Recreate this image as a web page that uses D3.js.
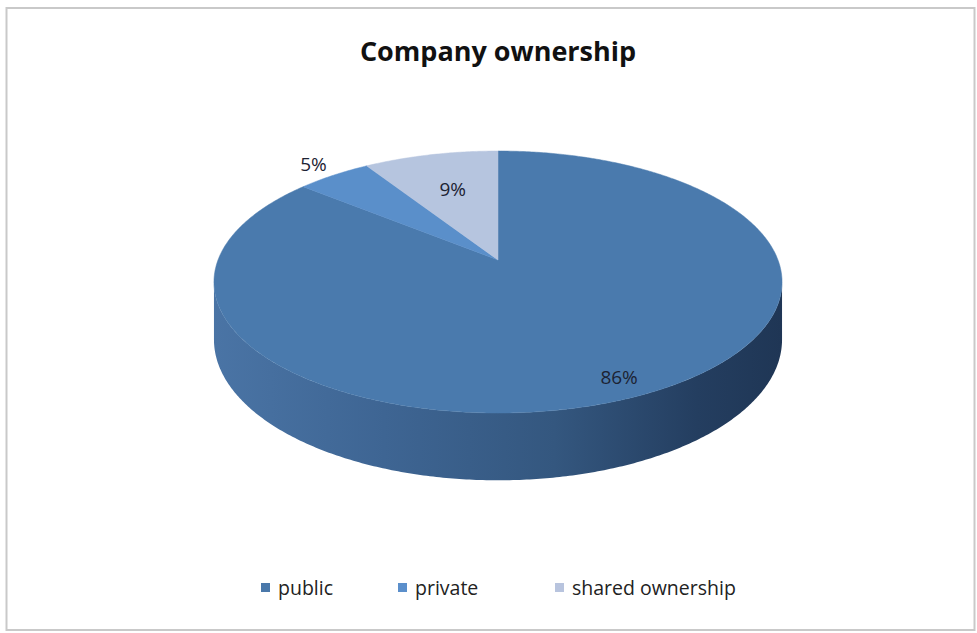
<!DOCTYPE html>
<html>
<head>
<meta charset="utf-8">
<script src="https://cdn.jsdelivr.net/npm/d3@7"></script>
<style>
  html, body { margin: 0; padding: 0; background: #ffffff; }
  svg { display: block; }
  text { font-family: "Open Sans", "Liberation Sans", sans-serif; }
</style>
</head>
<body>
<svg id="chart" width="977" height="633"></svg>
<script>
// Ownership categories and their shares (percent)
const categories = ["public", "private", "shared ownership"];
const shares = [86, 5, 9];
const labelTexts = ["86%", "5%", "9%"];
const topColors = ["#4a7aad", "#5a8fca", "#b6c5df"];
const legendColors = ["#4a78aa", "#5b8fcb", "#b8c4de"];
// radial position of each data label, as a fraction of the radius
const labelRadius = [0.88, 1.14, 0.64];

const W = 977, H = 633;
const svg = d3.select("#chart");

// frame
svg.append("rect")
  .attr("x", 6.5).attr("y", 8).attr("width", 968).attr("height", 622)
  .attr("fill", "#ffffff").attr("stroke", "#c9c9c9").attr("stroke-width", 2);

// title
svg.append("text")
  .attr("x", 498).attr("y", 61)
  .attr("text-anchor", "middle")
  .attr("font-size", 27).attr("font-weight", 700)
  .attr("fill", "#111111")
  .text("Company ownership");

// perspective pie geometry
const cx = 498, cy = 260;      // projected centre of the top face
const ax = 280, by = 127.3;    // horizontal / vertical half-axes before perspective
const k = 0.168;               // perspective strength (near edge larger)
const depth = 56;              // thickness of the disc

// theta: clockwise from 12 o'clock (d3.pie convention)
function project(theta, r, drop) {
  const u = r * Math.sin(theta);
  const v = -r * Math.cos(theta);
  const w = 1 - k * v;
  return [cx + ax * u / w, cy + by * v / w + (drop || 0) / w];
}

const pie = d3.pie().sort(null).value(d => d)(shares);
const line = d3.line();

function arcPoints(a0, a1, drop) {
  const n = Math.max(8, Math.ceil(Math.abs(a1 - a0) / 0.01));
  return d3.range(n + 1).map(i => project(a0 + (a1 - a0) * i / n, 1, drop));
}

// side wall (only the front half is visible; it belongs to the public slice)
const defs = svg.append("defs");
const grad = defs.append("linearGradient")
  .attr("id", "sideGrad").attr("gradientUnits", "userSpaceOnUse")
  .attr("x1", 214).attr("x2", 782).attr("y1", 0).attr("y2", 0);
grad.append("stop").attr("offset", "0%").attr("stop-color", "#4a74a5");
grad.append("stop").attr("offset", "30%").attr("stop-color", "#3e6593");
grad.append("stop").attr("offset", "60%").attr("stop-color", "#34577f");
grad.append("stop").attr("offset", "85%").attr("stop-color", "#243e60");
grad.append("stop").attr("offset", "100%").attr("stop-color", "#1f3655");

const s0 = Math.acos(-k), s1 = 2 * Math.PI - Math.acos(-k);
const sidePts = arcPoints(s0, s1, 0).concat(arcPoints(s1, s0, depth));
svg.append("path")
  .attr("d", line(sidePts) + "Z")
  .attr("fill", "url(#sideGrad)");

// top face slices
svg.append("g").selectAll("path")
  .data(pie)
  .join("path")
  .attr("d", d => line([project(0, 0, 0)].concat(arcPoints(d.startAngle, d.endAngle, 0))) + "Z")
  .attr("fill", (d, i) => topColors[i])
  .attr("stroke", (d, i) => topColors[i])
  .attr("stroke-width", 0.5);

// data labels
svg.append("g").selectAll("text")
  .data(pie)
  .join("text")
  .attr("transform", (d, i) => {
    const p = project((d.startAngle + d.endAngle) / 2, labelRadius[i], 0);
    return `translate(${p[0]},${p[1]})`;
  })
  .attr("text-anchor", "middle")
  .attr("dy", "0.35em")
  .attr("font-size", 19)
  .attr("fill", "#1c2333")
  .text((d, i) => labelTexts[i]);

// legend
const legendX = [261, 398, 555];
const legend = svg.append("g").selectAll("g")
  .data(categories)
  .join("g")
  .attr("transform", (d, i) => `translate(${legendX[i]},583)`);
legend.append("rect")
  .attr("width", 9).attr("height", 9)
  .attr("fill", (d, i) => legendColors[i]);
legend.append("text")
  .attr("x", 17).attr("y", 12)
  .attr("font-size", 19.5)
  .attr("fill", "#222222")
  .text(d => d);
</script>
</body>
</html>
